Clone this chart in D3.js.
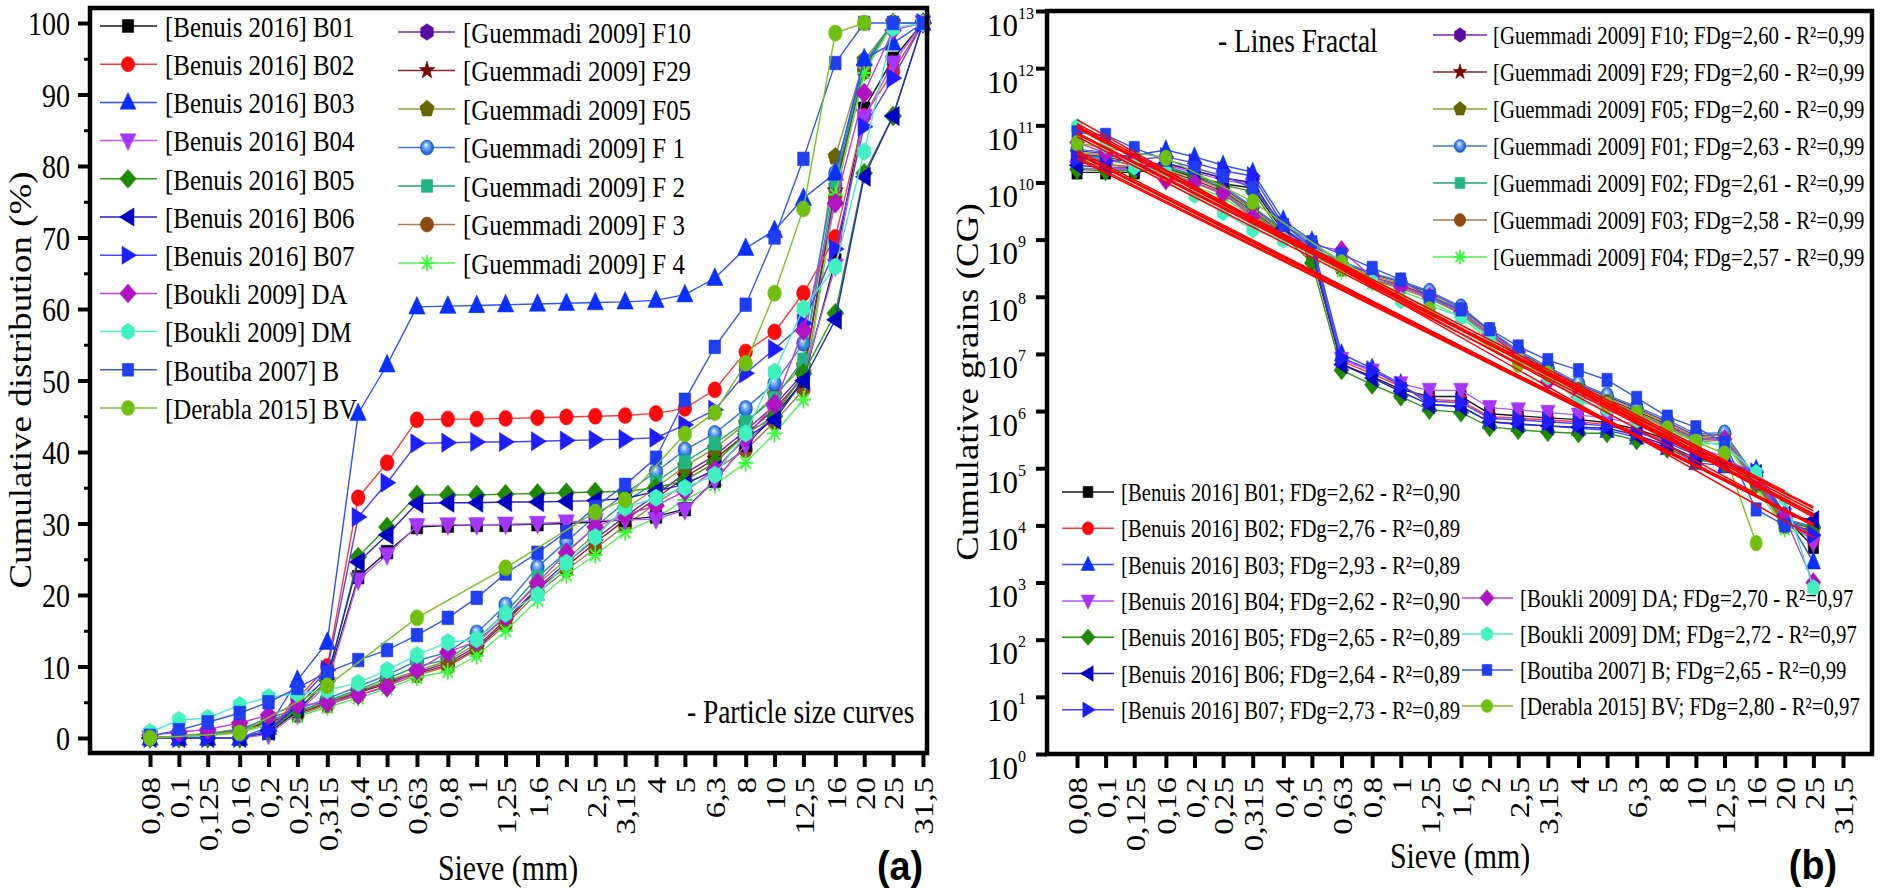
<!DOCTYPE html>
<html><head><meta charset="utf-8">
<script src="https://cdn.jsdelivr.net/npm/d3@7"></script>
<style>
html,body{margin:0;padding:0;background:#fff;}
svg{display:block;font-family:"Liberation Serif","Times New Roman",serif;}
</style></head><body>
<svg id="chart" width="1890" height="891"></svg>
<script>
// ---------------- DATA ----------------
const sieves = [0.08,0.1,0.125,0.16,0.2,0.25,0.315,0.4,0.5,0.63,0.8,1,1.25,1.6,2,2.5,3.15,4,5,6.3,8,10,12.5,16,20,25,31.5];
const sieveLabels = ["0,08","0,1","0,125","0,16","0,2","0,25","0,315","0,4","0,5","0,63","0,8","1","1,25","1,6","2","2,5","3,15","4","5","6,3","8","10","12,5","16","20","25","31,5"];
const pctTicks = [0,10,20,30,40,50,60,70,80,90,100];
const pctMinorTicks = [5,15,25,35,45,55,65,75,85,95];
const cgExponents = [0,1,2,3,4,5,6,7,8,9,10,11,12,13];

// (a) cumulative distribution (%) at each sieve (null = no point)
const pctB01 = [0,0,0,0,0.7,3.8,8,22.5,26,29.5,29.7,29.8,29.8,29.9,30,30.2,30.5,31,32,36,41,45,50,66.8,88,95,100];
const pctB02 = [0,0,0,0,1,5.5,10,33.6,38.5,44.5,44.6,44.6,44.7,44.8,44.9,45,45.1,45.4,46.1,48.7,54,56.8,62.2,70,87,93.2,100];
const pctB03 = [0,0,0,0,1.5,8.1,13.4,45.4,52.2,60.3,60.4,60.5,60.6,60.7,60.8,60.9,61,61.2,62,64.3,68.5,71,75.5,79,95,97.2,100];
const pctB04 = [0,0,0,0,0.5,3.5,7.5,22.1,25.6,29.7,29.8,29.8,29.9,30,30.2,30.4,30.5,30.6,31.9,36,41,45.5,50.5,66,86.9,94.4,100];
const pctB05 = [0,0,0,0,1,4,8,25.3,29.5,34,34,34,34.1,34.2,34.3,34.4,34.5,35,36,38.5,42.5,45,51,59.4,79,87,100];
const pctB06 = [0,0,0,0,1,4.5,8.5,24.6,28.4,32.8,32.9,32.9,33,33,33.1,33.2,33.5,34.5,35.5,37.5,42,44.5,50,58.5,78.5,87,100];
const pctB07 = [0,0,0,0,1,5,9.5,30.9,35.7,41.2,41.3,41.4,41.4,41.5,41.6,41.7,41.8,42,43.8,45.9,51,54.4,58,68.4,85.5,92.3,100];
const pctDA  = [0.4,0.8,1.2,2.1,3.2,4.6,4.9,6,7.1,9.5,12,13.5,17,21.7,25.9,29.5,31.2,32.5,34.5,37.5,42,46.7,57,74.8,90.2,99,100];
const pctDM  = [0.8,2.5,2.8,4.6,5.7,6.2,6.7,7.7,9.5,11.6,13.4,13.8,17.4,20,24.5,28.1,32.2,33.6,35,36.8,42.6,51.2,60.1,65.9,82,99.3,100];
const pctB   = [0.3,1.1,2.2,3.5,5,7,9.2,10.9,12.3,14.4,16.8,19.6,23,25.9,28.8,32.3,35.4,39.2,47.3,54.7,60.6,70,81,94.4,100,100,100];
const pctBV  = [0,null,null,0.7,null,null,7.3,null,null,16.8,null,null,23.8,null,null,31.6,33.3,null,42.5,45.5,52.4,62.2,74,98.6,100,null,null];
const pctF10 = [0,0.3,0.6,1.2,2.3,3.6,5,6.5,7.8,9.2,10.5,12.8,16.5,21,24.5,27.8,31,34,37,39.5,43,46.5,51,77,94,100,100];
const pctF29 = [0,0.2,0.5,1.1,2.2,3.4,4.8,6.3,7.6,9,10.2,12.5,16.2,20.8,24,27.3,30.5,33.5,36.5,39,42.5,46,50.5,76.5,93.8,100,100];
const pctF05 = [0,0.3,0.6,1.3,2.4,3.6,5.1,6.6,8,9.4,10.8,13.2,17,21.5,25,28.5,32,35,38,40.5,44,48,52,81.3,94.8,100,100];
const pctF01 = [0,0.2,0.5,1.2,2.8,4,5.5,7.2,8.8,10.8,12,14.7,18.6,23.9,27.5,31,34.2,37.2,40.3,42.6,46.1,49.6,55.2,79,94.4,100,100];
const pctF02 = [0,0.2,0.5,1.1,2.5,3.7,5.2,6.8,8.3,10,11,13.8,17.5,22.5,26,29.5,33,35.8,38.6,41.2,44.2,47.5,52.9,78,94,100,100];
const pctF03 = [0,0.1,0.4,0.9,2,3.2,4.6,6,7.3,8.8,10,12.3,15.8,20.3,23.5,26.5,29.7,32.8,35.5,37.5,40.3,44.2,48.7,75.7,93.2,100,100];
const pctF04 = [0,0.1,0.3,0.8,1.8,3,4.3,5.6,6.9,8.5,9.3,11.5,15,19.3,22.8,25.6,28.8,30.8,33.3,35.4,38.5,42.6,47.3,76,93,100,100];

// (b) cumulative grains (CG) at sieves 0,08 ... 25
const cgB01 = [1.5e10,1.5e10,1.5e10,1.8e10,1.25e10,9.5e9,8e9,1.4e9,5.4e8,6.6e6,4e6,2.4e6,1.8e6,1.8e6,9e5,8.3e5,7.6e5,7.1e5,6.3e5,4.8e5,3.2e5,2e5,1.4e5,6e4,1.4e4,4.2e3];
const cgB02 = [2.2e10,2e10,1.9e10,2.1e10,1.6e10,1.2e10,9.5e9,1.5e9,6e8,7.5e6,4.5e6,2.7e6,1.6e6,1.5e6,8e5,7.5e5,7e5,6.5e5,5.8e5,4.5e5,3e5,1.8e5,1.3e5,5.5e4,1.2e4,5.5e3];
const cgB03 = [3e10,2.8e10,3e10,3.7e10,2.8e10,2e10,1.5e10,2.2e9,9.5e8,1e7,5.6e6,3e6,1.3e6,1.2e6,6.5e5,5.8e5,5.5e5,5e5,4.6e5,3.5e5,2.3e5,1.25e5,1.1e5,9.5e4,1.6e4,2.3e3];
const cgB04 = [1.8e10,1.7e10,1.7e10,2e10,1.5e10,1.1e10,9e9,1.5e9,6e8,8e6,5e6,3e6,2.3e6,2.3e6,1.15e6,1.05e6,9.5e5,8.5e5,7.6e5,5.8e5,3.8e5,2.3e5,1.6e5,7e4,1.5e4,5e3];
const cgB05 = [1.7e10,1.6e10,1.6e10,1.8e10,1.3e10,9e9,7e9,1.2e9,3.9e8,5.2e6,2.9e6,1.8e6,1.05e6,9.5e5,5.3e5,4.7e5,4.3e5,4.1e5,4.1e5,3.1e5,2.2e5,1.4e5,1.2e5,5.5e4,1.1e4,9.3e3];
const cgB06 = [2e10,1.8e10,1.8e10,2.2e10,1.6e10,1.2e10,1e10,1.6e9,6.5e8,6.5e6,3.8e6,2.2e6,1.3e6,1.2e6,6.5e5,6e5,5.5e5,5.2e5,5e5,3.8e5,2.5e5,1.5e5,1.2e5,8e4,1.5e4,1.25e4];
const cgB07 = [2.6e10,2.4e10,2.5e10,2.8e10,2.2e10,1.6e10,1.3e10,1.8e9,8e8,8.5e6,5.2e6,2.8e6,1.5e6,1.4e6,7.5e5,7e5,6.5e5,6e5,5.5e5,4.3e5,2.8e5,1.7e5,1.3e5,8.5e4,1.3e4,6.8e3];
const cgDA  = [5e10,3.3e10,2.2e10,1.1e10,1e10,6.5e9,2.5e9,1.1e9,8e8,6.5e8,2.2e8,1.5e8,1e8,5.5e7,2.2e7,1.1e7,3.3e6,1.8e6,1.3e6,8e5,5.5e5,3.3e5,3.2e5,6e4,1.4e4,1e3];
const cgDM  = [9.3e10,4.5e10,1.9e10,1.5e10,6e9,3e9,1.5e9,1e9,7e8,4.5e8,1.8e8,8.7e7,7e7,4.5e7,2e7,8e6,4e6,1.5e6,1.1e6,7e5,4.5e5,3e5,2.5e5,8.3e4,3e4,8e2];
const cgB   = [7.5e10,6.8e10,4e10,2.5e10,1.8e10,1.3e10,8e9,1.8e9,9e8,5.5e8,3.2e8,2e8,1e8,6e7,2.7e7,1.35e7,7.8e6,5.2e6,3.5e6,1.7e6,8e5,5.2e5,2.8e5,1.9e4,1e4,null];
const cgBV  = [4.9e10,null,null,2.7e10,null,null,4.6e9,null,null,4e8,null,null,6e7,null,null,6.5e6,4.5e6,null,1.3e6,9e5,5e5,2.9e5,1.8e5,4.9e3,null,null];
const cgF10 = [3.6e10,3.2e10,2.5e10,1.8e10,1.25e10,7.9e9,3.6e9,1.4e9,7.9e8,3.9e8,2.5e8,1.8e8,1.2e8,6.3e7,2.5e7,1.07e7,5.6e6,2.9e6,1.8e6,1.12e6,6.5e5,3.7e5,3.9e5,6.3e4,1.25e4,8.9e3];
const cgF29 = [3.2e10,2.8e10,2.2e10,1.6e10,1.1e10,7e9,3.2e9,1.26e9,7e8,3.5e8,2.2e8,1.6e8,1.05e8,5.6e7,2.2e7,9.5e6,5e6,2.6e6,1.6e6,1e6,5.8e5,3.3e5,3.5e5,5.6e4,1.1e4,7.9e3];
const cgF05 = [3.4e10,3e10,2.4e10,1.7e10,1.2e10,7.5e9,3.4e9,1.35e9,7.5e8,3.7e8,2.35e8,1.7e8,1.12e8,6e7,2.35e7,1e7,5.4e6,2.8e6,1.7e6,1.07e6,6.2e5,3.5e5,3.8e5,6e4,1.2e4,8.5e3];
const cgF01 = [3.8e10,3.4e10,2.7e10,1.9e10,1.35e10,8.5e9,3.8e9,1.5e9,8.5e8,4.2e8,2.6e8,1.9e8,1.26e8,6.7e7,2.6e7,1.15e7,6e6,3.1e6,1.9e6,1.2e6,7e5,4e5,4.2e5,6.7e4,1.3e4,9.5e3];
const cgF02 = [3e10,2.6e10,2e10,1.5e10,1e10,6.5e9,3e9,1.17e9,6.5e8,3.3e8,2e8,1.5e8,9.8e7,5.2e7,2e7,8.8e6,4.6e6,2.4e6,1.5e6,9.3e5,5.4e5,3.1e5,3.3e5,5.2e4,1e4,7.3e3];
const cgF03 = [2.8e10,2.5e10,2e10,1.4e10,9.8e9,6.2e9,2.8e9,1.12e9,6.2e8,3.1e8,1.95e8,1.4e8,9.3e7,5e7,1.95e7,8.5e6,4.5e6,2.3e6,1.4e6,8.9e5,5.2e5,2.9e5,3.1e5,5e4,9.8e3,7e3];
const cgF04 = [2.5e10,2.2e10,1.75e10,1.25e10,8.7e9,5.5e9,2.5e9,1e9,5.5e8,2.8e8,1.75e8,1.25e8,8.3e7,4.4e7,1.75e7,7.5e6,4e6,2e6,1.25e6,7.9e5,4.6e5,2.6e5,2.8e5,4.4e4,8.7e3,6.2e3];

// series identity and legend texts
const seriesKeys   = ["F10","F29","F05","F01","F02","F03","F04","B01","B02","B03","B04","B05","B06","B07","DA","DM","B","BV"];
const namesA       = ["[Guemmadi 2009] F10","[Guemmadi 2009] F29","[Guemmadi 2009] F05","[Guemmadi 2009] F 1","[Guemmadi 2009] F 2","[Guemmadi 2009] F 3","[Guemmadi 2009] F 4","[Benuis 2016] B01","[Benuis 2016] B02","[Benuis 2016] B03","[Benuis 2016] B04","[Benuis 2016] B05","[Benuis 2016] B06","[Benuis 2016] B07","[Boukli 2009] DA","[Boukli 2009] DM","[Boutiba 2007] B","[Derabla 2015] BV"];
const namesB       = ["[Guemmadi 2009] F10","[Guemmadi 2009] F29","[Guemmadi 2009] F05","[Guemmadi 2009] F01","[Guemmadi 2009] F02","[Guemmadi 2009] F03","[Guemmadi 2009] F04","[Benuis 2016] B01","[Benuis 2016] B02","[Benuis 2016] B03","[Benuis 2016] B04","[Benuis 2016] B05","[Benuis 2016] B06","[Benuis 2016] B07","[Boukli 2009] DA","[Boukli 2009] DM","[Boutiba 2007] B","[Derabla 2015] BV"];
const fdgValues    = ["2,60","2,60","2,60","2,63","2,61","2,58","2,57","2,62","2,76","2,93","2,62","2,65","2,64","2,73","2,70","2,72","2,65","2,80"];
const r2Values     = ["0,99","0,99","0,99","0,99","0,99","0,99","0,99","0,90","0,89","0,89","0,90","0,89","0,89","0,89","0,97","0,97","0,99","0,97"];
// fractal fit lines (b): value at first sieve, value at last sieve, last sieve
const fitFrom      = [3.3e10,3.16e10,3.2e10,3.6e10,3.16e10,2.8e10,2.6e10,7.4e10,1.07e11,1.26e11,7.1e10,6.3e10,7.1e10,9.5e10,8.9e10,9.5e10,8.9e10,1e11];
const fitTo        = [1.07e4,1.02e4,1.05e4,1e4,9.8e3,1.02e4,1.02e4,2.1e4,1.4e4,6.2e3,2e4,1.55e4,1.8e4,1.5e4,1.6e4,1.55e4,4e4,3.6e4];
const fitLastSieve = [25,25,25,25,25,25,25,25,25,25,25,25,25,25,25,25,20,16];

const pctTable = {F10:pctF10,F29:pctF29,F05:pctF05,F01:pctF01,F02:pctF02,F03:pctF03,F04:pctF04,B01:pctB01,B02:pctB02,B03:pctB03,B04:pctB04,B05:pctB05,B06:pctB06,B07:pctB07,DA:pctDA,DM:pctDM,B:pctB,BV:pctBV};
const cgTable  = {F10:cgF10,F29:cgF29,F05:cgF05,F01:cgF01,F02:cgF02,F03:cgF03,F04:cgF04,B01:cgB01,B02:cgB02,B03:cgB03,B04:cgB04,B05:cgB05,B06:cgB06,B07:cgB07,DA:cgDA,DM:cgDM,B:cgB,BV:cgBV};

// ---------------- STYLES ----------------
const styleTable = {
  B01:{marker:"square",  fill:"#000000", line:"#1a1a1a"},
  B02:{marker:"circle",  fill:"#ff0a0a", line:"#ff3a3a"},
  B03:{marker:"triUp",   fill:"#0a30ff", line:"#2f50ff"},
  B04:{marker:"triDown", fill:"#a436ff", line:"#b458ff"},
  B05:{marker:"diamond", fill:"#1f8a00", line:"#33991a"},
  B06:{marker:"triLeft", fill:"#0000c4", line:"#2424c8"},
  B07:{marker:"triRight",fill:"#1e1eff", line:"#4848ff"},
  DA: {marker:"diamond", fill:"#b012c4", line:"#c040d2"},
  DM: {marker:"hexagon", fill:"#3ff2bf", line:"#4eeac8"},
  B:  {marker:"square",  fill:"#1f3ef0", line:"#3a58f0"},
  BV: {marker:"circle",  fill:"#70c010", line:"#7cc024"},
  F10:{marker:"hexagon", fill:"#5a0da0", line:"#6a2ab0"},
  F29:{marker:"star",    fill:"#7a0000", line:"#922020"},
  F05:{marker:"pentagon",fill:"#666600", line:"#9a9a3a"},
  F01:{marker:"sphere",  fill:"url(#sphere)", line:"#3a7ae0"},
  F02:{marker:"square",  fill:"#22b482", line:"#1aa878"},
  F03:{marker:"circle",  fill:"#8b4a12", line:"#a8784a"},
  F04:{marker:"asterisk",fill:"#33ff33", line:"#55ee55"}
};

function markerPath(type, r){
  const p = pts => "M" + pts.map(q => q[0].toFixed(2) + "," + q[1].toFixed(2)).join("L") + "Z";
  switch(type){
    case "square": { const s = r*0.85; return p([[-s,-s],[s,-s],[s,s],[-s,s]]); }
    case "circle": case "sphere": return `M${r},0A${r},${r} 0 1,1 ${-r},0A${r},${r} 0 1,1 ${r},0Z`;
    case "triUp":    return p([[0,-r*1.3],[r*1.2,r*0.9],[-r*1.2,r*0.9]]);
    case "triDown":  return p([[0,r*1.3],[r*1.2,-r*0.9],[-r*1.2,-r*0.9]]);
    case "triLeft":  return p([[-r*1.3,0],[r*0.9,-r*1.2],[r*0.9,r*1.2]]);
    case "triRight": return p([[r*1.3,0],[-r*0.9,-r*1.2],[-r*0.9,r*1.2]]);
    case "diamond": { const s = r*1.25; return p([[0,-s],[s,0],[0,s],[-s,0]]); }
    case "hexagon":  return p(d3.range(6).map(i => { const a = Math.PI/3*i - Math.PI/2; return [Math.cos(a)*r*1.1, Math.sin(a)*r*1.1]; }));
    case "pentagon": return p(d3.range(5).map(i => { const a = 2*Math.PI/5*i - Math.PI/2; return [Math.cos(a)*r*1.15, Math.sin(a)*r*1.15]; }));
    case "star":     return p(d3.range(10).map(i => { const a = Math.PI/5*i - Math.PI/2; const rr = i%2 ? r*0.5 : r*1.25; return [Math.cos(a)*rr, Math.sin(a)*rr]; }));
    case "asterisk": { const s = r*1.1, d = s*0.707; return `M0,${-s}V${s}M${-s},0H${s}M${-d},${-d}L${d},${d}M${-d},${d}L${d},${-d}`; }
  }
}
function styleMarker(sel, st){
  if (st.marker === "asterisk") {
    sel.attr("fill","none").attr("stroke",st.fill).attr("stroke-width",2);
  } else if (st.marker === "sphere") {
    sel.attr("fill",st.fill).attr("stroke","#1a55c0").attr("stroke-width",0.6);
  } else {
    sel.attr("fill",st.fill).attr("stroke",st.fill).attr("stroke-width",0.6);
  }
}

// ---------------- SETUP ----------------
const svg = d3.select("#chart");
const defs = svg.append("defs");
const grad = defs.append("radialGradient").attr("id","sphere")
  .attr("cx","50%").attr("cy","50%").attr("r","55%").attr("fx","42%").attr("fy","30%");
grad.append("stop").attr("offset","0%").attr("stop-color","#ffffff");
grad.append("stop").attr("offset","30%").attr("stop-color","#86b6ff");
grad.append("stop").attr("offset","75%").attr("stop-color","#2a6fe0");
grad.append("stop").attr("offset","100%").attr("stop-color","#1446a8");

const SX = 0.83; // horizontal text compression of the original picture

function addText(parent, x, y, str, o){
  o = o || {};
  const rot = o.rotate ? ` rotate(${o.rotate})` : "";
  const sc = o.rotate ? ` scale(1,${o.squeeze||SX})` : ` scale(${o.squeeze||SX},1)`;
  return parent.append("text")
    .attr("transform", `translate(${x},${y})${rot}${sc}`)
    .attr("text-anchor", o.anchor || "start")
    .attr("dy", o.dy || null)
    .attr("font-size", o.size || 30)
    .attr("font-family", o.family || "Liberation Serif, Times New Roman, serif")
    .attr("font-weight", o.weight || "normal")
    .attr("fill", "#000")
    .text(str);
}

const pA = {left:90, top:8, right:927, bottom:753};
const pB = {left:1047, top:11, right:1872, bottom:754};
const xA = d3.scaleLog().domain([0.0503, 32.5]).range([pA.left, pA.right]);
const yA = d3.scaleLinear().domain([-2.1, 102.1]).range([pA.bottom, pA.top]);
const xB = d3.scaleLog().domain([0.0633, 39.5]).range([pB.left, pB.right]);
const yB = d3.scaleLog().domain([1, 1e13]).range([pB.bottom, pB.top]);

// ---------------- PANEL (a) ----------------
const gA = svg.append("g");
const drawOrder = seriesKeys;

drawOrder.forEach(k => {
  const st = styleTable[k];
  const pts = sieves.map((s,i) => [s, pctTable[k][i]]).filter(d => d[1] != null);
  gA.append("path").attr("d", d3.line().x(d => xA(d[0])).y(d => yA(d[1]))(pts))
    .attr("fill","none").attr("stroke",st.line).attr("stroke-width",1.4);
  const m = gA.selectAll(null).data(pts).join("path")
    .attr("transform", d => `translate(${xA(d[0])},${yA(d[1])}) scale(0.85,1)`)
    .attr("d", markerPath(st.marker, 8));
  styleMarker(m, st);
});

// axes (a)
const axA_x = gA.append("g").attr("transform",`translate(0,${pA.bottom})`)
  .call(d3.axisBottom(xA).tickValues(sieves).tickSize(14).tickSizeOuter(0).tickFormat((d,i) => sieveLabels[i]));
axA_x.select(".domain").remove();
axA_x.selectAll(".tick line").attr("stroke","#000").attr("stroke-width",4);
axA_x.selectAll(".tick text").attr("y",null).attr("dy","0.35em").attr("text-anchor","end")
  .attr("transform","translate(0,24) rotate(-90) scale(1,0.85)")
  .attr("font-size",33).attr("font-family","Liberation Serif, serif").attr("fill","#000");

const axA_y = gA.append("g").attr("transform",`translate(${pA.left},0)`)
  .call(d3.axisLeft(yA).tickValues(pctTicks).tickSize(12).tickSizeOuter(0).tickFormat(d3.format("d")));
axA_y.select(".domain").remove();
axA_y.selectAll(".tick line").attr("stroke","#000").attr("stroke-width",4);
axA_y.selectAll(".tick text").attr("x",null).attr("dy","0.35em").attr("text-anchor","end")
  .attr("transform","translate(-20,0) scale(0.85,1)")
  .attr("font-size",33).attr("font-family","Liberation Serif, serif").attr("fill","#000");
const axA_ym = gA.append("g").attr("transform",`translate(${pA.left},0)`)
  .call(d3.axisLeft(yA).tickValues(pctMinorTicks).tickSize(6).tickSizeOuter(0).tickFormat(""));
axA_ym.select(".domain").remove();
axA_ym.selectAll(".tick line").attr("stroke","#000").attr("stroke-width",3);

gA.append("rect").attr("x",pA.left).attr("y",pA.top).attr("width",pA.right-pA.left).attr("height",pA.bottom-pA.top)
  .attr("fill","none").attr("stroke","#000").attr("stroke-width",4.5);

addText(gA, 31, 380, "Cumulative distribution (%)", {rotate:-90, anchor:"middle", size:37});
addText(gA, 508, 880, "Sieve (mm)", {anchor:"middle", size:36});
addText(gA, 923, 880, "(a)", {anchor:"end", size:41, weight:"bold", family:"Liberation Sans, Arial, sans-serif", squeeze:0.92});
addText(gA, 687, 723, "- Particle size curves", {size:33});

// legend (a)
const legA1 = ["B01","B02","B03","B04","B05","B06","B07","DA","DM","B","BV"];
const legA2 = ["F10","F29","F05","F01","F02","F03","F04"];
function legendItem(g, k, name, x0, x1, xm, xt, y, size, r){
  const st = styleTable[k];
  g.append("line").attr("x1",x0).attr("x2",x1).attr("y1",y).attr("y2",y).attr("stroke",st.line).attr("stroke-width",1.5);
  const m = g.append("path").attr("transform",`translate(${xm},${y}) scale(0.88,1)`).attr("d", markerPath(st.marker, r));
  styleMarker(m, st);
  addText(g, xt, y, name, {size:size, dy:"0.36em"});
}
legA1.forEach((k,i) => legendItem(gA, k, namesA[seriesKeys.indexOf(k)], 100, 157, 128, 165, 26 + i*38.2, 30, 7.5));
legA2.forEach((k,i) => legendItem(gA, k, namesA[seriesKeys.indexOf(k)], 398, 455, 427, 463, 32 + i*38.5, 30, 7.5));

// ---------------- PANEL (b) ----------------
const gB = svg.append("g");
drawOrder.forEach(k => {
  const st = styleTable[k];
  const pts = sieves.map((s,i) => [s, cgTable[k][i]]).filter(d => d[1] != null && d[1] !== undefined);
  gB.append("path").attr("d", d3.line().x(d => xB(d[0])).y(d => yB(d[1]))(pts))
    .attr("fill","none").attr("stroke",st.line).attr("stroke-width",1.4);
  const m = gB.selectAll(null).data(pts).join("path")
    .attr("transform", d => `translate(${xB(d[0])},${yB(d[1])}) scale(0.8,1.05)`)
    .attr("d", markerPath(st.marker, 7.5));
  styleMarker(m, st);
});
// fractal fit lines
seriesKeys.forEach((k,i) => {
  gB.append("line")
    .attr("x1", xB(sieves[0])).attr("y1", yB(fitFrom[i]))
    .attr("x2", xB(fitLastSieve[i])).attr("y2", yB(fitTo[i]))
    .attr("stroke","#ff0000").attr("stroke-width",1.5);
});

const axB_x = gB.append("g").attr("transform",`translate(0,${pB.bottom})`)
  .call(d3.axisBottom(xB).tickValues(sieves).tickSize(14).tickSizeOuter(0).tickFormat((d,i) => sieveLabels[i]));
axB_x.select(".domain").remove();
axB_x.selectAll(".tick line").attr("stroke","#000").attr("stroke-width",4);
axB_x.selectAll(".tick text").attr("y",null).attr("dy","0.35em").attr("text-anchor","end")
  .attr("transform","translate(0,23) rotate(-90) scale(1,0.85)")
  .attr("font-size",33).attr("font-family","Liberation Serif, serif").attr("fill","#000");

const cgTicks = cgExponents.map(e => Math.pow(10, e));
const axB_y = gB.append("g").attr("transform",`translate(${pB.left},0)`)
  .call(d3.axisLeft(yB).tickValues(cgTicks).tickSize(11).tickSizeOuter(0).tickFormat(""));
axB_y.select(".domain").remove();
axB_y.selectAll(".tick line").attr("stroke","#000").attr("stroke-width",4);
axB_y.selectAll(".tick").each(function(d, i){
  const t = d3.select(this);
  t.append("text").attr("x",-29).attr("y",24).attr("text-anchor","end")
    .attr("font-size",31).attr("font-family","Liberation Serif, serif").attr("fill","#000").text("10");
  t.append("text").attr("x",-29).attr("y",7).attr("text-anchor","start")
    .attr("font-size",16).attr("font-family","Liberation Serif, serif").attr("fill","#000").text(String(cgExponents[i]));
});

gB.append("rect").attr("x",pB.left).attr("y",pB.top).attr("width",pB.right-pB.left).attr("height",pB.bottom-pB.top)
  .attr("fill","none").attr("stroke","#000").attr("stroke-width",4.5);

addText(gB, 978, 382, "Cumulative grains (CG)", {rotate:-90, anchor:"middle", size:37});
addText(gB, 1460, 868, "Sieve (mm)", {anchor:"middle", size:36});
addText(gB, 1837, 879, "(b)", {anchor:"end", size:41, weight:"bold", family:"Liberation Sans, Arial, sans-serif", squeeze:0.92});
addText(gB, 1218, 52, "- Lines Fractal", {size:33});

function labelB(k){ const i = seriesKeys.indexOf(k); return `${namesB[i]}; FDg=${fdgValues[i]} - R\u00B2=${r2Values[i]}`; }
const legB1 = ["F10","F29","F05","F01","F02","F03","F04"];
const legB2 = ["B01","B02","B03","B04","B05","B06","B07"];
const legB3 = ["DA","DM","B","BV"];
legB1.forEach((k,i) => legendItem(gB, k, labelB(k), 1433, 1487, 1460, 1493, 35 + i*37, 25, 6.5));
legB2.forEach((k,i) => legendItem(gB, k, labelB(k), 1062, 1114, 1088, 1121, 492 + i*36.3, 25, 6.5));
legB3.forEach((k,i) => legendItem(gB, k, labelB(k), 1462, 1513, 1487, 1520, 598 + i*36, 25, 6.5));
</script>
</body></html>
